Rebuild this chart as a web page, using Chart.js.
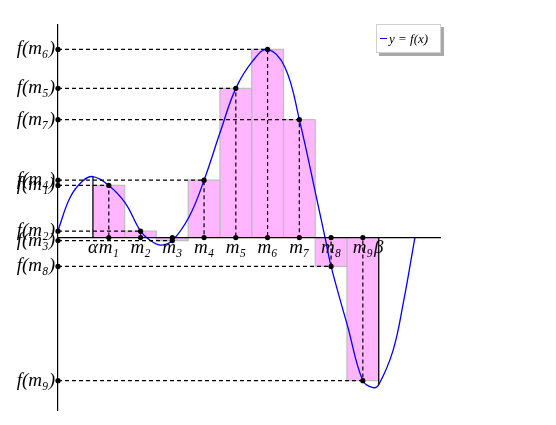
<!DOCTYPE html>
<html>
<head>
<meta charset="utf-8">
<script src="https://cdn.jsdelivr.net/npm/chart.js@4.4.1/dist/chart.umd.min.js"></script>
<style>
  html, body { margin: 0; padding: 0; background: #fff; }
  #wrap { position: relative; width: 556px; height: 425px; }
  #legend {
    position: absolute; left: 376px; top: 24px; width: 65px; height: 29px;
    box-sizing: border-box; border: 1px solid #d0d0d0; background: #fff;
    box-shadow: 3px 3px 0 #a9a9a9;
    font: italic 13px "Liberation Serif", serif; color: #000;
    display: flex; align-items: center; padding-left: 3px; white-space: nowrap;
  }
  #legend .sw { display: inline-block; width: 7px; border-top: 1.5px solid #0000ff; margin-right: 2px; }
</style>
</head>
<body>
<div id="wrap">
  <canvas id="chart"></canvas>
  <div id="legend"><span class="sw"></span><span>y = f(x)</span></div>
</div>
<script>
// Riemann-Summe: [alpha, beta] in 9 Teile, Stützstellen m_i
const alpha = 1.1;
const beta = 10.1;
const mids = [1.6, 2.6, 3.6, 4.6, 5.6, 6.6, 7.6, 8.6, 9.6];
const fMids = [1.30, 0.16, -0.075, 1.43, 3.72, 4.69, 2.94, -0.72, -3.57];
const fAlpha = 1.52;
const fBeta = -3.67;

const curveX = [0, 0.38, 0.76, 1.10, 1.60, 2.11, 2.60, 2.90, 3.24, 3.60, 4.13, 4.60, 5.13, 5.60,
  6.14, 6.60, 7.15, 7.60, 8.16, 8.41, 8.60, 9.13, 9.60, 9.92, 10.10, 10.55, 10.87, 11.24];
const curveY = [0.175, 1.00, 1.40, 1.52, 1.30, 0.87, 0.16, -0.07, -0.19, -0.075, 0.52, 1.43, 2.68, 3.72,
  4.41, 4.69, 4.24, 2.94, 0.92, 0, -0.72, -2.24, -3.57, -3.74, -3.67, -2.82, -1.65, 0];

const xLabels = ['α', 'm₁', 'm₂', 'm₃', 'm₄', 'm₅', 'm₆', 'm₇', 'm₈', 'm₉', 'β'];
const yLabels = ['f(m₁)', 'f(m₂)', 'f(m₃)', 'f(m₄)', 'f(m₅)', 'f(m₆)', 'f(m₇)', 'f(m₈)', 'f(m₉)'];

const serif = '"Liberation Serif", "DejaVu Serif", serif';
const w = (beta - alpha) / mids.length;

const guides = mids.map((m, i) => ({
  data: [{ x: 0, y: fMids[i] }, { x: m, y: fMids[i] }, { x: m, y: 0 }],
  showLine: true, borderColor: '#000', borderWidth: 1.2, borderDash: [4, 3],
  pointRadius: 2.6, pointBackgroundColor: '#000', pointBorderWidth: 0, clip: false
}));

const edges = [[alpha, fAlpha], [beta, fBeta]].map(([x, y]) => ({
  data: [{ x, y: 0 }, { x, y }],
  showLine: true, borderColor: '#000', borderWidth: 1.2, pointRadius: 0
}));

const curve = {
  data: curveX.map((x, i) => ({ x, y: curveY[i] })),
  showLine: true, borderColor: '#0000ff', borderWidth: 1.3, pointRadius: 0,
  tension: 0.4
};

const bars = mids.map((m, i) => {
  const l = alpha + i * w, r = l + w;
  return {
    data: [{ x: l, y: 0 }, { x: l, y: fMids[i] }, { x: r, y: fMids[i] }, { x: r, y: 0 }],
    showLine: true, fill: 'origin', backgroundColor: '#ffb6ff', borderColor: '#bdbdbd',
    borderWidth: 1.2, pointRadius: 0
  };
});

new Chart(document.getElementById('chart'), {
  type: 'scatter',
  data: { datasets: [...guides, ...edges, curve, ...bars] },
  options: {
    responsive: true,
    maintainAspectRatio: false,
    animation: false,
    events: [],
    layout: { padding: { left: 0, top: 25, right: 116, bottom: 15 } },
    plugins: { legend: { display: false }, tooltip: { enabled: false } },
    scales: {
      x: {
        type: 'linear', min: 0, max: 12.03,
        position: { y: 0 },
        grid: { display: false, drawTicks: false },
        border: { color: '#000', width: 1.2, z: 1 },
        afterBuildTicks: s => { s.ticks = [alpha, ...mids, beta].map(v => ({ value: v })); },
        ticks: {
          z: 1, autoSkip: false, maxRotation: 0, padding: -1, color: '#000',
          font: { family: serif, size: 19, style: 'italic' },
          callback: (v, i) => xLabels[i]
        }
      },
      y: {
        type: 'linear', min: -4.3, max: 5.3,
        grid: { display: false, drawTicks: false },
        border: { color: '#000', width: 1.2 },
        afterBuildTicks: s => { s.ticks = fMids.map(v => ({ value: v })); },
        afterFit: s => { s.width = 58; },
        ticks: {
          padding: 3, color: '#000',
          font: { family: serif, size: 19, style: 'italic' },
          callback: (v, i) => yLabels[i]
        }
      }
    }
  }
});
</script>
</body>
</html>
